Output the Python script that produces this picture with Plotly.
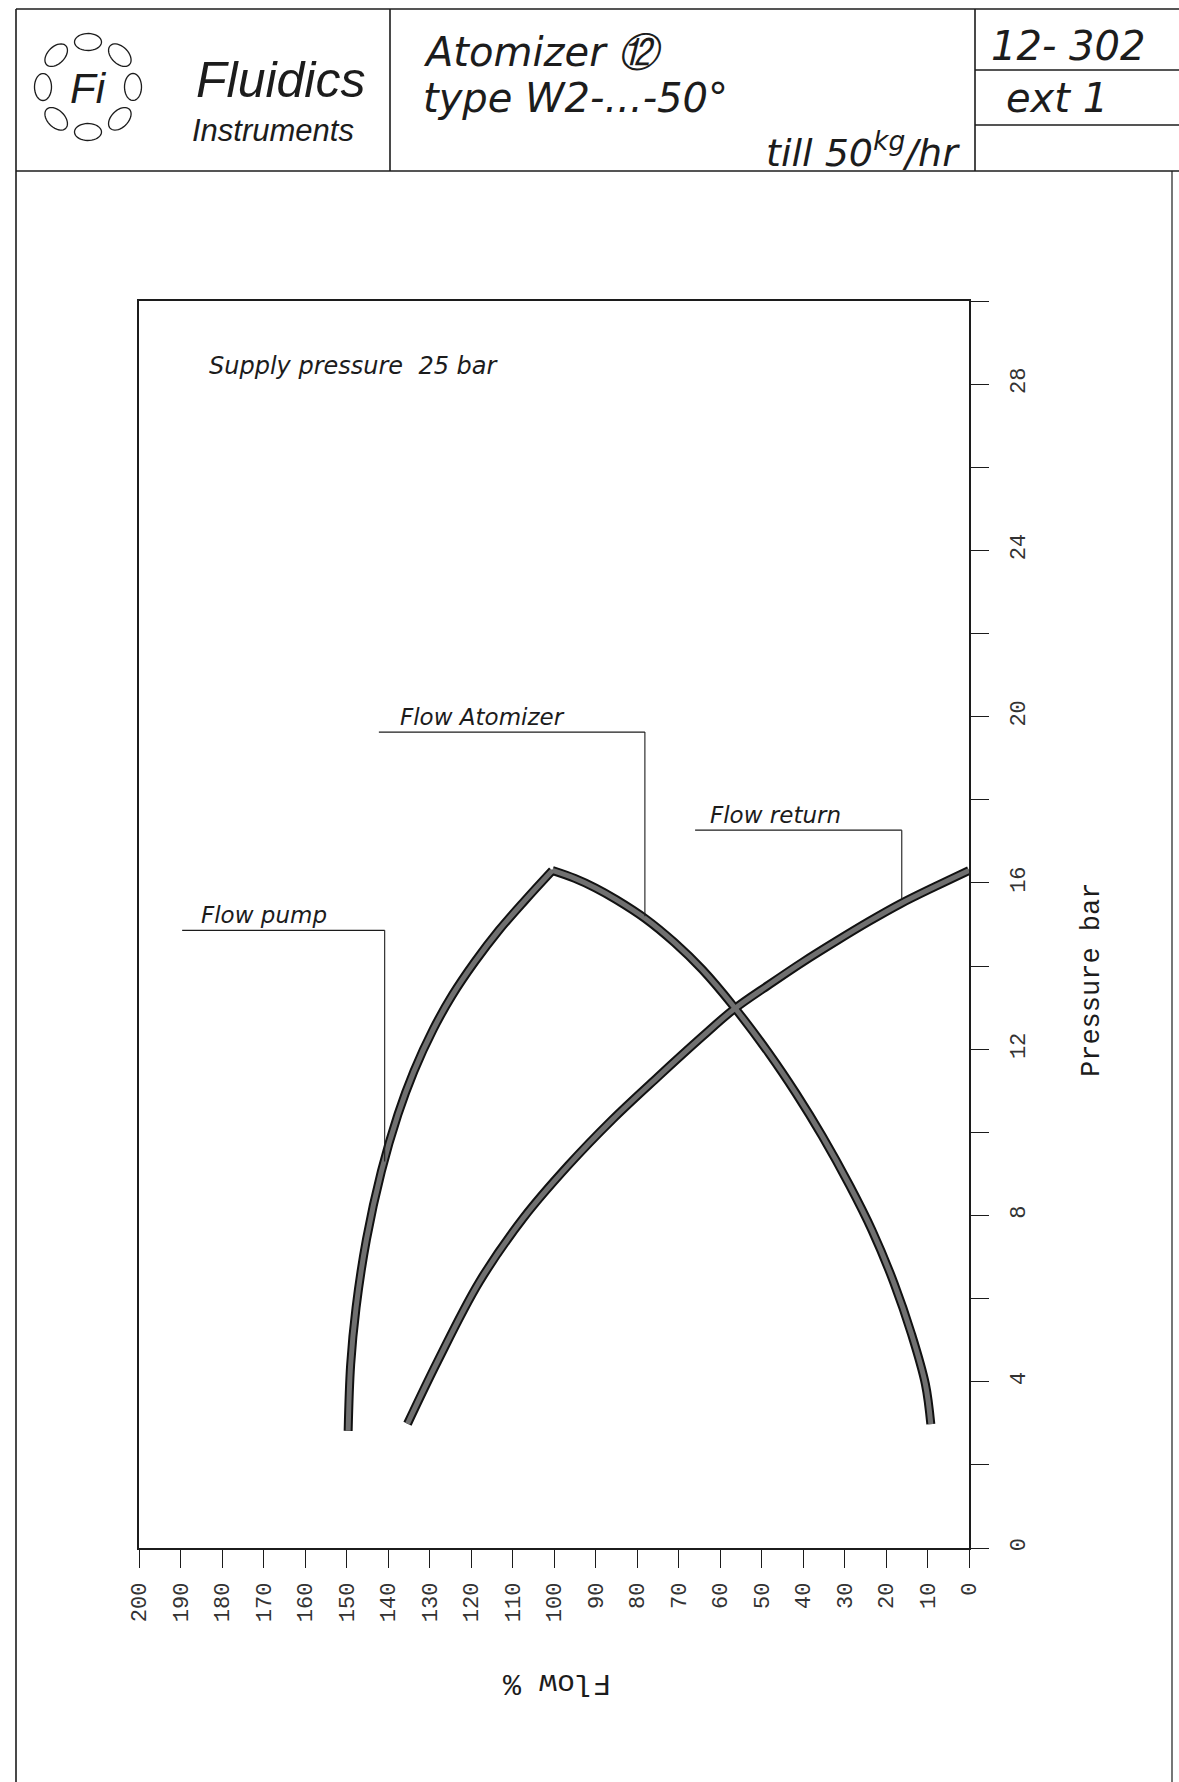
import numpy as np
import plotly.graph_objects as go

# ---------------- data ----------------
pump_flow = [149.6, 149.0, 147.7, 145.2, 141.6, 137.6, 133.75, 129.1, 124.5, 119.1, 113.2, 107.0, 100.4]
pump_pressure = [2.82, 4.41, 5.78, 7.42, 9.06, 10.43, 11.47, 12.48, 13.3, 14.1, 14.87, 15.58, 16.3]

atomizer_flow = [100.4, 95.0, 90.0, 85.0, 78.1, 71.0, 64.3, 56.8, 48.2, 41.7, 35.3, 28.8, 23.4, 18.1, 13.8, 10.5, 9.2]
atomizer_pressure = [16.3, 16.11, 15.88, 15.6, 15.15, 14.57, 13.92, 13.04, 11.9, 10.94, 9.9, 8.73, 7.65, 6.38, 5.13, 3.94, 2.98]

return_flow = [135.3, 128.0, 118.0, 107.3, 96.6, 86.0, 75.0, 64.3, 56.8, 48.2, 40.0, 32.0, 24.0, 16.5, 8.0, 0.0]
return_pressure = [2.99, 4.5, 6.4, 7.95, 9.2, 10.3, 11.33, 12.3, 12.95, 13.55, 14.1, 14.6, 15.08, 15.5, 15.92, 16.3]

x_ticks = list(range(0, 201, 10))
y_ticks = [0, 4, 8, 12, 16, 20, 24, 28]

series = [
    ("Flow pump", pump_flow, pump_pressure),
    ("Flow Atomizer", atomizer_flow, atomizer_pressure),
    ("Flow return", return_flow, return_pressure),
]

# ---------------- page geometry ----------------
W, H = 1179, 1782
L, R, T, B = 139, 969, 301, 1548


def px(x):
    return (x - L) / (R - L)


def py(y):
    return (B - y) / (B - T)


INK = "#1c1c1c"
fig = go.Figure()

for name, fx, fy in series:
    fig.add_trace(go.Scatter(x=fx, y=fy, mode="lines", name=name,
                             line=dict(color="#111111", width=9, shape="spline", smoothing=1.0),
                             hoverinfo="skip", showlegend=False))
for name, fx, fy in series:
    fig.add_trace(go.Scatter(x=fx, y=fy, mode="lines", name=name,
                             line=dict(color="#707070", width=5, shape="spline", smoothing=1.0),
                             showlegend=False))

shapes = []
annotations = []

# ---- leader lines for curve labels (data coordinates) ----
labels = [
    # text, text left x, underline start x, elbow x, underline y, end y
    ("Flow Atomizer", 137.5, 142.2, 78.1, 19.63, 15.2),
    ("Flow return", 63.0, 66.0, 16.2, 17.27, 15.6),
    ("Flow pump", 185.5, 189.6, 140.8, 14.86, 9.3),
]
for text_, tx, x0, xe, yl, ye in labels:
    shapes.append(dict(type="line", xref="x", yref="y", x0=x0, x1=xe, y0=yl, y1=yl,
                       line=dict(color=INK, width=1.3)))
    shapes.append(dict(type="line", xref="x", yref="y", x0=xe, x1=xe, y0=yl, y1=ye,
                       line=dict(color=INK, width=1.1)))
    annotations.append(dict(xref="x", yref="y", x=tx, y=yl, text=text_, showarrow=False,
                            xanchor="left", yanchor="bottom", yshift=0,
                            font=dict(family="DejaVu Sans", size=23, color=INK, style="italic")))

# ---- drawing frame / title block ----
def hline(y, x0, x1, w=1.6):
    shapes.append(dict(type="line", xref="paper", yref="paper", x0=px(x0), x1=px(x1),
                       y0=py(y), y1=py(y), line=dict(color=INK, width=w)))


def vline(x, y0, y1, w=1.6):
    shapes.append(dict(type="line", xref="paper", yref="paper", x0=px(x), x1=px(x),
                       y0=py(y0), y1=py(y1), line=dict(color=INK, width=w)))


hline(9, 16, 1179)
hline(171, 16, 1179)
vline(16, 9, 1782)
vline(390, 9, 171)
vline(975, 9, 171)
hline(70, 975, 1179)
hline(125, 975, 1179)
vline(1172, 171, 1782, 1.2)

# logo: eight ovals on a ring
cx, cy, ring = 88, 87, 45
for k in range(8):
    th = np.deg2rad(k * 45)
    ccx, ccy = cx + ring * np.cos(th), cy - ring * np.sin(th)
    tvec = (-np.sin(th), -np.cos(th))
    nvec = (np.cos(th), -np.sin(th))
    t = np.linspace(0, 2 * np.pi, 40)
    a, b = 13.5, 8.5
    xs = ccx + a * np.cos(t) * tvec[0] + b * np.sin(t) * nvec[0]
    ys = ccy + a * np.cos(t) * tvec[1] + b * np.sin(t) * nvec[1]
    path = "M " + " L ".join(f"{px(u):.5f},{py(v):.5f}" for u, v in zip(xs, ys)) + " Z"
    shapes.append(dict(type="path", xref="paper", yref="paper", path=path,
                       line=dict(color=INK, width=1.3), fillcolor="rgba(0,0,0,0)"))


def text(x, y, s, size, anchor="left", family="Liberation Sans", style="italic", angle=0):
    annotations.append(dict(xref="paper", yref="paper", x=px(x), y=py(y), text=s,
                            showarrow=False, xanchor=anchor, yanchor="middle",
                            textangle=angle,
                            font=dict(family=family, size=size, color=INK, style=style)))


text(88, 88, "Fi", 42, anchor="center")
text(194, 80, "Fluidics", 50)
text(190, 131, "Instruments", 31)
text(421, 52, "Atomizer ⑫", 40, family="DejaVu Sans")
text(421, 98, "type W2-...-50°", 40, family="DejaVu Sans")
text(962, 150, "till 50<sup>kg</sup>/hr", 38, anchor="right", family="DejaVu Sans")
text(989, 46, "12- 302", 40, family="DejaVu Sans")
text(1004, 98, "ext 1", 40, family="DejaVu Sans")

text(207, 366, "Supply pressure  25 bar", 24, family="DejaVu Sans")

# axis titles (drawn like the original lettering)
text(1092, 980, "Pressure bar", 27, anchor="center", family="Liberation Mono", style="normal", angle=-90)
text(557, 1683, "Flow %", 30, anchor="center", family="Liberation Mono", style="normal", angle=180)

fig.update_layout(
    width=W, height=H,
    margin=dict(l=L, r=W - R, t=T, b=H - B, pad=0),
    paper_bgcolor="white", plot_bgcolor="white",
    shapes=shapes, annotations=annotations,
    showlegend=False,
)

fig.update_xaxes(range=[200, 0], tickvals=x_ticks, ticktext=[str(v) for v in x_ticks],
                 ticks="outside", ticklen=18, tickwidth=1.2, tickcolor=INK,
                 showline=True, linecolor=INK, linewidth=1.6, mirror=True,
                 showgrid=False, zeroline=False, tickangle=-90, ticklabelstandoff=6,
                 tickfont=dict(family="Liberation Mono", size=22, color="#333333"))
fig.update_yaxes(range=[0, 30], side="right", tickvals=y_ticks,
                 ticks="outside", ticklen=18, tickwidth=1.2, tickcolor=INK,
                 minor=dict(dtick=2, tick0=0, ticks="outside", ticklen=18, tickwidth=1.2, tickcolor=INK),
                 showline=True, linecolor=INK, linewidth=1.6, mirror=True,
                 showgrid=False, zeroline=False, tickangle=-90, ticklabelstandoff=10,
                 tickfont=dict(family="Liberation Mono", size=22, color="#333333"))

fig.write_html("out.html", config={"displayModeBar": False},
               post_script="document.body.style.margin='0';")
